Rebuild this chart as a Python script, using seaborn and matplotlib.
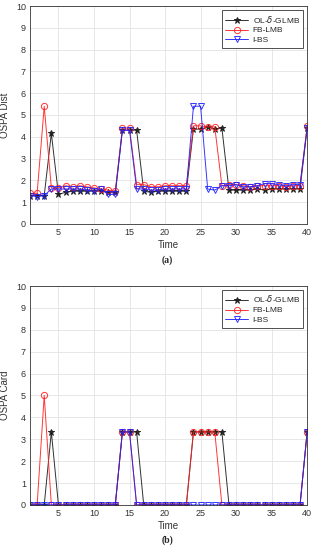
import numpy as np
import pandas as pd
import matplotlib
matplotlib.use("Agg")
import matplotlib.pyplot as plt
import seaborn as sns

# time steps
time = list(range(1, 41))

# OSPA distance (panel a)
dist_olglmb = [1.3, 1.3, 1.3, 4.15, 1.35, 1.45, 1.5, 1.5, 1.5, 1.5,
               1.5, 1.45, 1.45, 4.3, 4.3, 4.3, 1.5, 1.45, 1.5, 1.5,
               1.5, 1.5, 1.5, 4.35, 4.35, 4.45, 4.35, 4.4, 1.55, 1.55,
               1.55, 1.55, 1.6, 1.55, 1.6, 1.6, 1.6, 1.6, 1.6, 4.4]
dist_fblmb = [1.4, 1.4, 5.4, 1.65, 1.65, 1.75, 1.7, 1.75, 1.7, 1.65,
              1.6, 1.55, 1.5, 4.4, 4.4, 1.8, 1.8, 1.7, 1.7, 1.75,
              1.75, 1.75, 1.75, 4.5, 4.5, 4.45, 4.45, 1.75, 1.8, 1.8,
              1.75, 1.7, 1.75, 1.75, 1.75, 1.75, 1.7, 1.75, 1.75, 4.5]
dist_ibs = [1.3, 1.25, 1.3, 1.6, 1.6, 1.6, 1.6, 1.6, 1.55, 1.5,
            1.6, 1.35, 1.35, 4.3, 4.3, 1.6, 1.6, 1.55, 1.55, 1.6,
            1.6, 1.6, 1.6, 5.4, 5.4, 1.6, 1.55, 1.75, 1.75, 1.8,
            1.7, 1.7, 1.75, 1.85, 1.85, 1.8, 1.75, 1.8, 1.8, 4.4]

# OSPA cardinality (panel b)
h = 10 / 3
card_olglmb = [0, 0, 0, h, 0, 0, 0, 0, 0, 0,
               0, 0, 0, h, h, h, 0, 0, 0, 0,
               0, 0, 0, h, h, h, h, h, 0, 0,
               0, 0, 0, 0, 0, 0, 0, 0, 0, h]
card_fblmb = [0, 0, 5, 0, 0, 0, 0, 0, 0, 0,
              0, 0, 0, h, h, 0, 0, 0, 0, 0,
              0, 0, 0, h, h, h, h, 0, 0, 0,
              0, 0, 0, 0, 0, 0, 0, 0, 0, h]
card_ibs = [0, 0, 0, 0, 0, 0, 0, 0, 0, 0,
            0, 0, 0, h, h, 0, 0, 0, 0, 0,
            0, 0, 0, 0, 0, 0, 0, 0, 0, 0,
            0, 0, 0, 0, 0, 0, 0, 0, 0, h]

labels = ["OL-$\\delta$-GLMB", "FB-LMB", "I-BS"]
colors = ["#1a1a1a", "#ff2020", "#2020ff"]
markers = ["*", "o", "v"]

sns.set_style("whitegrid")
plt.rcParams['font.family'] = ['Liberation Sans', 'DejaVu Sans']

fig = plt.figure(figsize=(3.16, 5.5), dpi=100)
ax1 = fig.add_axes([0.095, 0.593, 0.877, 0.396])
ax2 = fig.add_axes([0.095, 0.082, 0.877, 0.398])


def draw(ax, series, ylabel):
    for vals, lab, col, mk in zip(series, labels, colors, markers):
        df = pd.DataFrame({"Time": time, "val": vals})
        face = col if mk == "*" else "none"
        sns.lineplot(data=df, x="Time", y="val", ax=ax, color=col, lw=0.7,
                     marker=mk, markersize=4.5,
                     markerfacecolor=face, markeredgecolor=col,
                     markeredgewidth=0.7, label=lab, alpha=0.9)
    ax.set_xlim(1, 40)
    ax.set_ylim(0, 10)
    ax.set_xticks(range(5, 41, 5))
    ax.set_yticks(range(0, 11))
    ax.tick_params(labelsize=6.5, colors="#333333", length=0, pad=3)
    ax.grid(True, color="#e3e3e3", lw=0.6)
    for sp in ax.spines.values():
        sp.set_color("#333333")
        sp.set_linewidth(0.6)
    ax.set_xlabel("Time", fontsize=7, color="#333333", labelpad=2)
    ax.set_ylabel(ylabel, fontsize=7, color="#333333", labelpad=4)
    leg = ax.legend(loc="upper right", fontsize=6, frameon=True, fancybox=False,
                    edgecolor="#333333", framealpha=1, borderpad=0.4,
                    labelspacing=0.25, handlelength=2.8, handletextpad=0.5,
                    borderaxespad=0.5)
    leg.get_frame().set_linewidth(0.6)


draw(ax1, [dist_olglmb, dist_fblmb, dist_ibs], "OSPA Dist")
draw(ax2, [card_olglmb, card_fblmb, card_ibs], "OSPA Card")

fig.text(0.53, 1 - 260 / 550, "(a)", ha="center", va="center",
         fontsize=7, fontweight="bold", family="Liberation Serif")
fig.text(0.53, 1 - 540 / 550, "(b)", ha="center", va="center",
         fontsize=7, fontweight="bold", family="Liberation Serif")

fig.savefig("out.png", dpi=100)
